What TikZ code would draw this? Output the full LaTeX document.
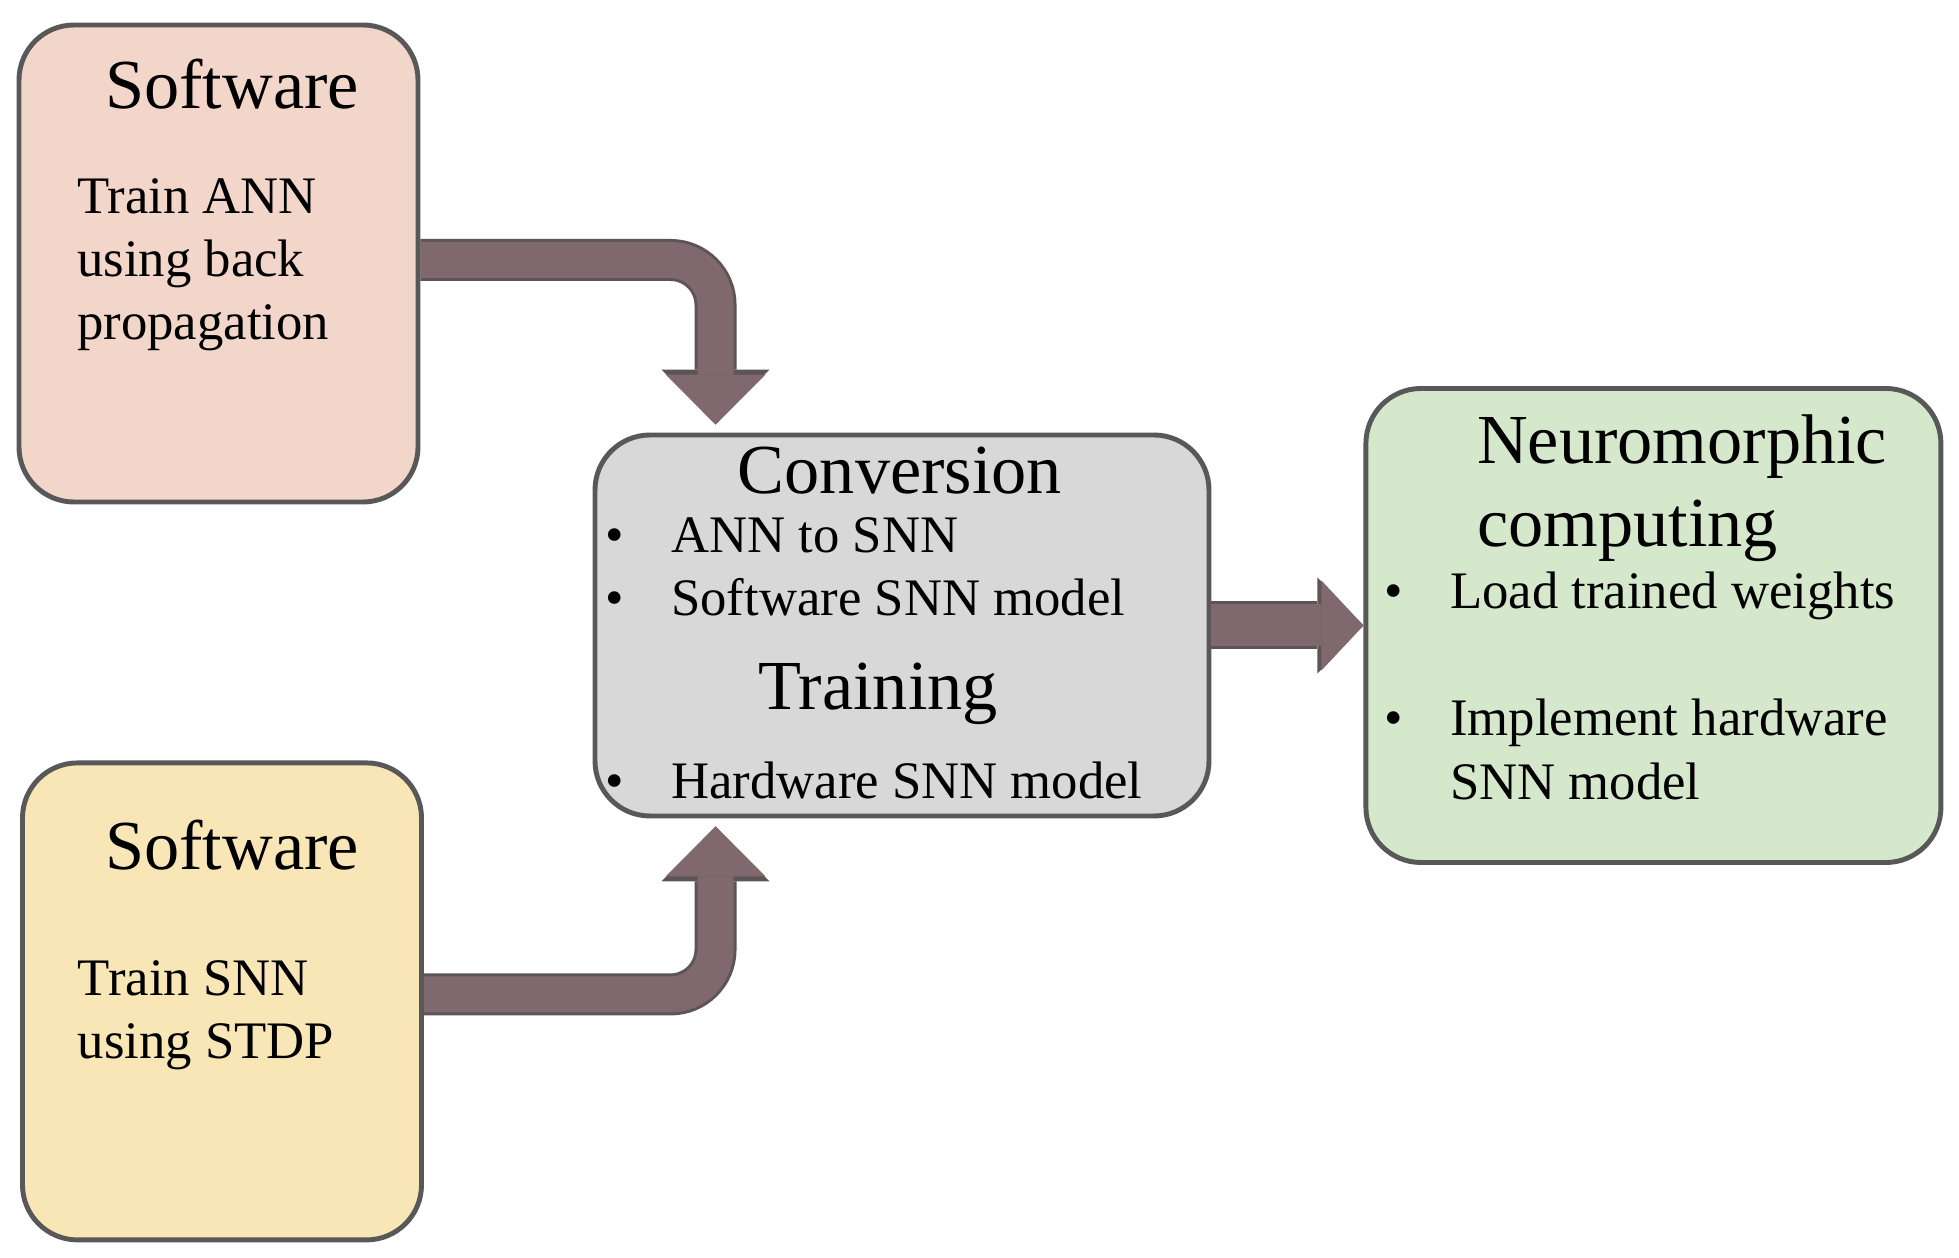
\documentclass[tikz,border=0pt]{standalone}
\usepackage{fontspec}
\setmainfont{Liberation Serif}
\usetikzlibrary{arrows.meta, positioning, calc}

\definecolor{annpink}{RGB}{243,214,202}
\definecolor{snnyellow}{RGB}{248,230,183}
\definecolor{convgray}{RGB}{216,216,216}
\definecolor{neurogreen}{RGB}{214,232,204}
\definecolor{boxedge}{RGB}{88,88,88}
\definecolor{arrowbody}{RGB}{128,105,110}
\definecolor{arrowedge}{RGB}{92,84,86}

\newcommand{\bulitem}{\makebox[0.66cm][l]{\textbullet}}

\begin{document}
\begin{tikzpicture}[
    box/.style={
        rectangle,
        rounded corners=0.55cm,
        draw=boxedge,
        line width=1.4pt,
        minimum width=3.99cm,
        minimum height=4.77cm
    },
    title/.style={
        font=\fontsize{20}{23.5}\selectfont,
        align=left,
        inner sep=0pt
    },
    body/.style={
        font=\fontsize{15}{18}\selectfont,
        align=left,
        inner sep=0pt
    },
    bendarrow/.style={
        preaction={draw=arrowedge, line width=0.42cm,
            -{Triangle[width=1.08cm,length=0.55cm,line width=0pt]}},
        -{Triangle[width=1cm,length=0.5cm,line width=0pt]},
        line width=0.36cm,
        draw=arrowbody,
        rounded corners=0.45cm
    },
    straightarrow/.style={
        preaction={draw=arrowedge, line width=0.48cm,
            -{Triangle[width=0.96cm,length=0.46cm,line width=0pt]}},
        -{Triangle[width=0.9cm,length=0.42cm,line width=0pt]},
        line width=0.42cm,
        draw=arrowbody
    }
]

\path[use as bounding box, fill=white] (0,0) rectangle (19.59,12.58);

% INPUT boxes
\node[box, fill=annpink] (ann) at (2.185,9.945) {};
\node[box, fill=snnyellow, below=2.56cm of ann, xshift=0.035cm] (snn) {};

% CONVERSION / TRAINING box
\node[box, fill=convgray, minimum width=6.14cm, minimum height=3.81cm] (conv) at (9.02,6.325) {};

% NEUROMORPHIC box
\node[box, fill=neurogreen, minimum width=5.75cm, minimum height=4.74cm, right=1.52cm of conv] (neuro) {};

% Texts of the input boxes (base = last line)
\node[title, anchor=base] (ann-title) at ([xshift=0.135cm, yshift=-0.86cm]ann.north) {Software};
\node[body, anchor=base west] (ann-text) at ([xshift=0.6cm, yshift=-3.17cm]ann.north west) {
    Train ANN\\
    using back\\
    propagation
};
\node[title, anchor=base] (snn-title) at ([xshift=0.1cm, yshift=-1.09cm]snn.north) {Software};
\node[body, anchor=base west] (snn-text) at ([xshift=0.57cm, yshift=-2.98cm]snn.north west) {
    Train SNN\\
    using STDP
};

% Texts of the middle box
\node[title, anchor=base] (conv-title) at ([xshift=-0.02cm, yshift=-0.61cm]conv.north) {Conversion};
\node[body, anchor=base west] (conv-list) at ([xshift=0.12cm, yshift=-1.83cm]conv.north west) {
    \bulitem ANN to SNN\\
    \bulitem Software SNN model
};
\node[title, anchor=base] (train-title) at ([xshift=-0.24cm, yshift=-2.77cm]conv.north) {Training};
\node[body, anchor=base west] (train-list) at ([xshift=0.12cm, yshift=-3.66cm]conv.north west) {
    \bulitem Hardware SNN model
};

% Texts of the neuromorphic box
\node[title, anchor=base west] (neuro-title) at ([xshift=1.13cm, yshift=-1.6cm]neuro.north west) {
    Neuromorphic\\
    computing
};
\node[body, anchor=base west] (neuro-load) at ([xshift=0.2cm, yshift=-2.22cm]neuro.north west) {
    \bulitem Load trained weights
};
\node[body, anchor=base west] (neuro-impl) at ([xshift=0.2cm, yshift=-4.13cm]neuro.north west) {
    \bulitem Implement hardware\\
    \hspace*{0.66cm}SNN model
};

% Arrows
\coordinate (conv-in-top) at ([xshift=1.23cm]conv.north west);
\coordinate (conv-in-bot) at ([xshift=1.23cm]conv.south west);
\draw[bendarrow, shorten >=0.08cm] ([yshift=0.035cm]ann.east) -| (conv-in-top);
\draw[bendarrow, shorten >=0.08cm] ([yshift=0.07cm]snn.east) -| (conv-in-bot);
\draw[straightarrow] (conv.east) -- (neuro.west);

\end{tikzpicture}
\end{document}
